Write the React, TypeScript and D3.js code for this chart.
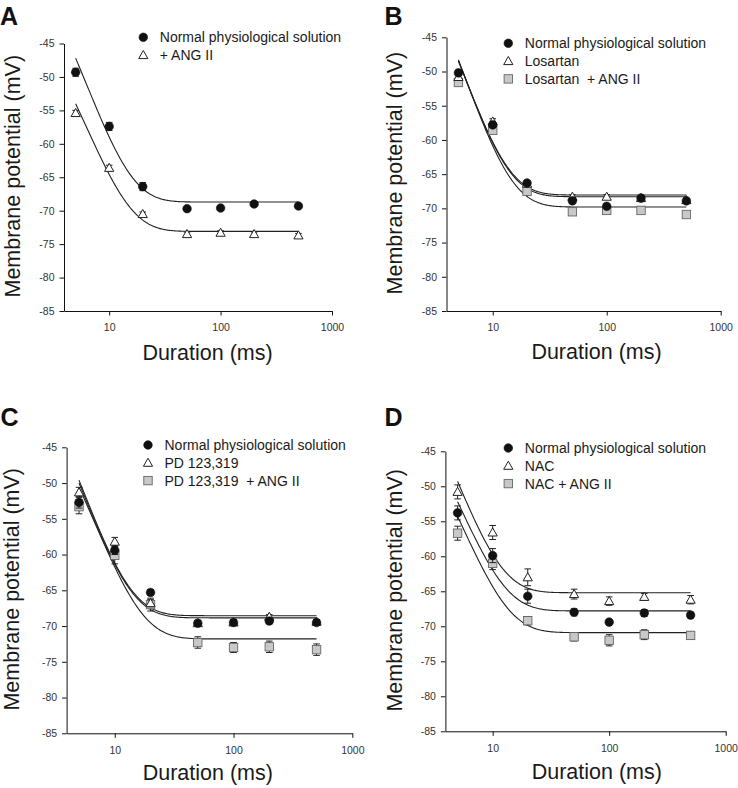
import React, { useEffect, useRef } from "react";
import * as d3 from "d3";

const FONT = "'Liberation Sans', Arial, Helvetica, sans-serif";

// ---------- shared axes ----------
const durations = [5, 10, 20, 50, 100, 200, 500];
const xDomain = [3.93, 1000];
const yDomain = [-85, -45];
const xTickValues = [10, 100, 1000];
const yTickValues = [-85, -80, -75, -70, -65, -60, -55, -50, -45];
const xTitle = "Duration (ms)";
const yTitle = "Membrane potential (mV)";

// ---------- Panel A ----------
const aLegend = ["Normal physiological solution", "+ ANG II"];
const aNormal = [-49.3, -57.4, -66.4, -69.7, -69.6, -69.0, -69.3];
const aNormalErr = [0.6, 0.6, 0.6, 0.3, 0.3, 0.3, 0.3];
const aAngII = [-55.4, -63.6, -70.5, -73.5, -73.3, -73.5, -73.7];
const aAngIIErr = [0.4, 0.4, 0.3, 0.3, 0.3, 0.3, 0.3];
const aFitStart = [-47.2, -54.0];
const aFitPlateau = [-68.7, -73.1];
const aFitTau = [6.3, 6.2];

// ---------- Panel B ----------
const bLegend = ["Normal physiological solution", "Losartan", "Losartan  + ANG II"];
const bNormal = [-50.2, -57.8, -66.3, -68.9, -69.7, -68.5, -68.9];
const bNormalErr = [0.4, 0.4, 0.3, 0.3, 0.3, 0.3, 0.3];
const bLosartan = [-50.8, -57.3, -66.4, -68.3, -68.3, -68.5, -68.8];
const bLosartanErr = [0.4, 0.4, 0.3, 0.3, 0.3, 0.3, 0.3];
const bLosAngII = [-51.6, -58.6, -67.5, -70.5, -70.3, -70.3, -70.9];
const bLosAngIIErr = [0.4, 0.4, 0.3, 0.3, 0.3, 0.3, 0.3];
const bFitStart = [-48.4, -48.5, -48.3];
const bFitPlateau = [-68.3, -68.05, -69.8];
const bFitTau = [5.4, 5.4, 5.7];

// ---------- Panel C ----------
const cLegend = ["Normal physiological solution", "PD 123,319", "PD 123,319  + ANG II"];
const cNormal = [-52.7, -59.4, -65.3, -69.6, -69.5, -69.3, -69.5];
const cNormalErr = [0.8, 0.6, 0.4, 0.4, 0.4, 0.4, 0.4];
const cPD = [-51.3, -58.2, -66.8, -69.6, -69.5, -68.7, -69.4];
const cPDErr = [0.7, 0.6, 0.5, 0.4, 0.4, 0.3, 0.3];
const cPDAngII = [-53.3, -60.1, -67.0, -72.3, -73.0, -72.9, -73.3];
const cPDAngIIErr = [1.0, 1.2, 0.9, 0.8, 0.7, 0.8, 0.8];
const cFitStart = [-50.0, -49.6, -50.6];
const cFitPlateau = [-68.85, -68.55, -71.8];
const cFitTau = [5.4, 5.3, 6.7];

// ---------- Panel D ----------
const dLegend = ["Normal physiological solution", "NAC", "NAC + ANG II"];
const dNormal = [-53.8, -59.9, -65.7, -68.0, -69.4, -68.1, -68.4];
const dNormalErr = [1.0, 1.0, 1.0, 0.5, 0.3, 0.5, 0.4];
const dNAC = [-50.8, -56.6, -63.0, -65.4, -66.4, -65.8, -66.2];
const dNACErr = [1.0, 1.0, 1.2, 0.7, 0.6, 0.5, 0.6];
const dNACAngII = [-56.7, -61.0, -69.2, -71.5, -72.0, -71.2, -71.3];
const dNACAngIIErr = [1.0, 0.9, 0.6, 0.6, 0.8, 0.7, 0.5];
const dFitStart = [-52.2, -49.3, -54.3];
const dFitPlateau = [-67.8, -65.2, -70.9];
const dFitTau = [5.1, 4.7, 5.4];

type Marker = "circle" | "triangle" | "square";

interface Series {
  marker: Marker;
  values: number[];
  errors: number[];
}

interface Panel {
  letter: string;
  letterX: number;
  letterY: number;
  left: number;
  right: number;
  top: number;
  bottom: number;
  legendX: number;
  legendY: number;
  yTitleX: number;
  xTitleX: number;
  xTitleY: number;
  legend: string[];
  series: Series[];
  fitStart: number[];
  fitPlateau: number[];
  fitTau: number[];
}

const panels: Panel[] = [
  {
    letter: "A", letterX: 0, letterY: 25,
    left: 64, right: 332, top: 43.5, bottom: 311,
    legendX: 143.3, legendY: 37.3, yTitleX: 20, xTitleX: 207.5, xTitleY: 360,
    legend: aLegend,
    series: [
      { marker: "circle", values: aNormal, errors: aNormalErr },
      { marker: "triangle", values: aAngII, errors: aAngIIErr },
    ],
    fitStart: aFitStart, fitPlateau: aFitPlateau, fitTau: aFitTau,
  },
  {
    letter: "B", letterX: 384.5, letterY: 25,
    left: 446.5, right: 720.7, top: 37.3, bottom: 311,
    legendX: 508.3, legendY: 43.3, yTitleX: 402, xTitleX: 596.5, xTitleY: 358.5,
    legend: bLegend,
    series: [
      { marker: "circle", values: bNormal, errors: bNormalErr },
      { marker: "triangle", values: bLosartan, errors: bLosartanErr },
      { marker: "square", values: bLosAngII, errors: bLosAngIIErr },
    ],
    fitStart: bFitStart, fitPlateau: bFitPlateau, fitTau: bFitTau,
  },
  {
    letter: "C", letterX: 0.5, letterY: 425.7,
    left: 66.6, right: 352.3, top: 447.3, bottom: 733.3,
    legendX: 148, legendY: 445, yTitleX: 18.5, xTitleX: 207.8, xTitleY: 779.5,
    legend: cLegend,
    series: [
      { marker: "circle", values: cNormal, errors: cNormalErr },
      { marker: "triangle", values: cPD, errors: cPDErr },
      { marker: "square", values: cPDAngII, errors: cPDAngIIErr },
    ],
    fitStart: cFitStart, fitPlateau: cFitPlateau, fitTau: cFitTau,
  },
  {
    letter: "D", letterX: 384.5, letterY: 425.7,
    left: 445.4, right: 725.7, top: 451.3, bottom: 731.3,
    legendX: 508.3, legendY: 448, yTitleX: 402, xTitleX: 596.8, xTitleY: 779,
    legend: dLegend,
    series: [
      { marker: "circle", values: dNormal, errors: dNormalErr },
      { marker: "triangle", values: dNAC, errors: dNACErr },
      { marker: "square", values: dNACAngII, errors: dNACAngIIErr },
    ],
    fitStart: dFitStart, fitPlateau: dFitPlateau, fitTau: dFitTau,
  },
];

function drawMarker(g: d3.Selection<SVGGElement, unknown, null, undefined>, type: Marker, cx: number, cy: number) {
  if (type === "circle") {
    g.append("circle").attr("cx", cx).attr("cy", cy).attr("r", 4.3).attr("fill", "#111").attr("stroke", "#111").attr("stroke-width", 0.6);
  } else if (type === "triangle") {
    const pts = [[cx, cy - 4.6], [cx - 4.6, cy + 3.5], [cx + 4.6, cy + 3.5]];
    g.append("polygon").attr("points", pts.map((p) => p.join(",")).join(" ")).attr("fill", "#fff").attr("stroke", "#222").attr("stroke-width", 1);
  } else {
    g.append("rect").attr("x", cx - 4.2).attr("y", cy - 4.2).attr("width", 8.4).attr("height", 8.4).attr("fill", "#c8c8c8").attr("stroke", "#666").attr("stroke-width", 0.9);
  }
}

function drawPanel(svg: d3.Selection<SVGSVGElement, unknown, null, undefined>, p: Panel) {
  const x = d3.scaleLog().domain(xDomain).range([p.left, p.right]);
  const y = d3.scaleLinear().domain(yDomain).range([p.bottom, p.top]);
  const g = svg.append("g");

  // panel letter
  g.append("text").attr("x", p.letterX).attr("y", p.letterY).attr("font-family", FONT).attr("font-weight", "bold").attr("font-size", 25).attr("fill", "#111").text(p.letter);

  // axes
  const yAxis = d3.axisLeft(y).tickValues(yTickValues).tickSize(4.5).tickSizeOuter(0).tickPadding(5).tickFormat((d) => String(d));
  const gy = g.append("g").attr("transform", `translate(${p.left},0)`).call(yAxis);
  const xAxis = d3.axisBottom(x).tickValues(xTickValues).tickSize(4.5).tickSizeOuter(0).tickPadding(8.5).tickFormat((d) => String(d));
  const gx = g.append("g").attr("transform", `translate(0,${p.bottom})`).call(xAxis);
  [gx, gy].forEach((a) => {
    a.select(".domain").attr("stroke", "#111").attr("stroke-width", 1);
    a.selectAll(".tick line").attr("stroke", "#111").attr("stroke-width", 1);
    a.selectAll(".tick text").attr("font-family", FONT).attr("font-size", 10.5).attr("fill", "#333");
  });

  // titles
  g.append("text")
    .attr("transform", `translate(${p.yTitleX},${(p.top + p.bottom) / 2 - 1}) rotate(-90)`)
    .attr("text-anchor", "middle").attr("font-family", FONT).attr("font-size", 21.5).attr("fill", "#1a1a1a").text(yTitle);
  g.append("text").attr("x", p.xTitleX).attr("y", p.xTitleY).attr("text-anchor", "middle").attr("font-family", FONT).attr("font-size", 21.5).attr("fill", "#1a1a1a").text(xTitle);

  // fitted curves
  const xs = d3.range(0, 241).map((i) => 5 * Math.pow(100, i / 240));
  p.fitStart.forEach((start, i) => {
    const plateau = p.fitPlateau[i];
    const tau = p.fitTau[i];
    const line = d3.line<number>().x((d) => x(d)).y((d) => y(plateau + (start - plateau) * Math.exp(-(d - 5) / tau)));
    g.append("path").attr("d", line(xs)).attr("fill", "none").attr("stroke", "#222").attr("stroke-width", 1.1);
  });

  // error bars and markers (later series drawn first so circles stay on top)
  const order = p.series.map((s, i) => i).reverse();
  order.forEach((si) => {
    const s = p.series[si];
    const sg = g.append("g");
    durations.forEach((dur, j) => {
      const cx = x(dur);
      const v = s.values[j];
      const e = s.errors[j];
      const y1 = y(v + e);
      const y2 = y(v - e);
      sg.append("line").attr("x1", cx).attr("x2", cx).attr("y1", y1).attr("y2", y2).attr("stroke", "#222").attr("stroke-width", 1);
      [y1, y2].forEach((yy) => sg.append("line").attr("x1", cx - 3.3).attr("x2", cx + 3.3).attr("y1", yy).attr("y2", yy).attr("stroke", "#222").attr("stroke-width", 1));
    });
    durations.forEach((dur, j) => drawMarker(sg, s.marker, x(dur), y(s.values[j])));
  });

  // legend
  p.legend.forEach((label, i) => {
    const cy = p.legendY + i * 17.8;
    drawMarker(g, p.series[i].marker, p.legendX, cy);
    g.append("text").attr("x", p.legendX + 16.5).attr("y", cy + 5).attr("font-family", FONT).attr("font-size", 14).attr("fill", "#1a1a1a").style("white-space", "pre").text(label);
  });
}

export default function App() {
  const ref = useRef<SVGSVGElement>(null);
  useEffect(() => {
    if (!ref.current) return;
    const svg = d3.select(ref.current);
    svg.selectAll("*").remove();
    panels.forEach((p) => drawPanel(svg, p));
  }, []);
  return (
    <svg
      ref={ref}
      width={738}
      height={788}
      viewBox="0 0 738 788"
      style={{ position: "absolute", left: 0, top: 0, background: "#fff" }}
    />
  );
}
